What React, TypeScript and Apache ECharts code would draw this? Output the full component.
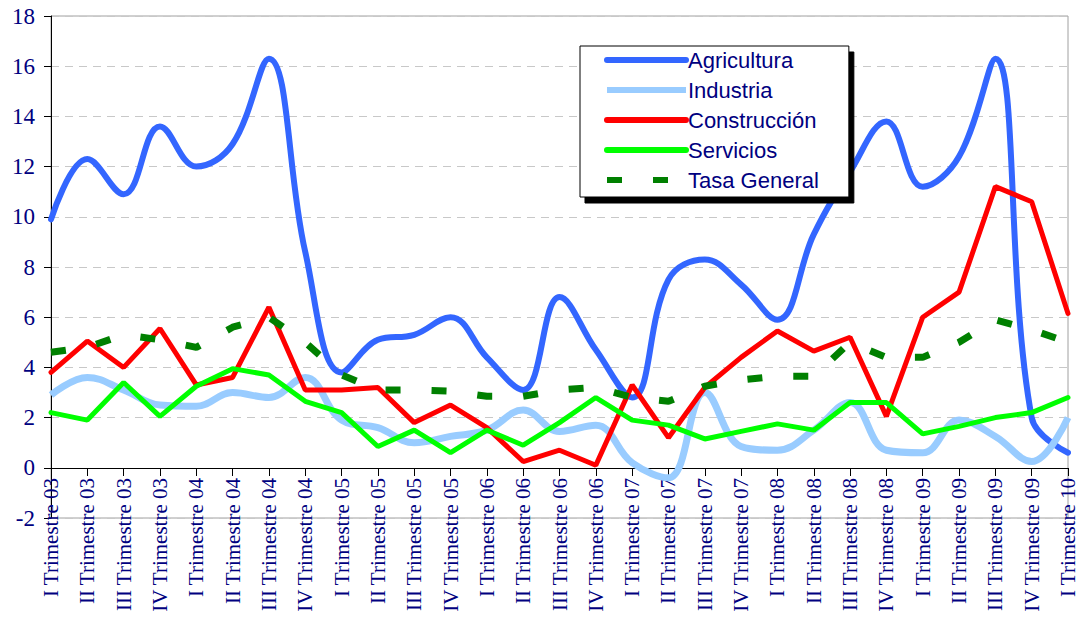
import React, { useEffect, useRef } from "react";
import * as echarts from "echarts";

const categories = [
  "I Trimestre 03", "II Trimestre 03", "III Trimestre 03", "IV Trimestre 03",
  "I Trimestre 04", "II Trimestre 04", "III Trimestre 04", "IV Trimestre 04",
  "I Trimestre 05", "II Trimestre 05", "III Trimestre 05", "IV Trimestre 05",
  "I Trimestre 06", "II Trimestre 06", "III Trimestre 06", "IV Trimestre 06",
  "I Trimestre 07", "II Trimestre 07", "III Trimestre 07", "IV Trimestre 07",
  "I Trimestre 08", "II Trimestre 08", "III Trimestre 08", "IV Trimestre 08",
  "I Trimestre 09", "II Trimestre 09", "III Trimestre 09", "IV Trimestre 09",
  "I Trimestre 10",
];

const agricultura = [9.9, 12.3, 10.9, 13.6, 12.0, 12.9, 16.3, 8.6, 3.8, 5.1, 5.3, 6.0, 4.4, 3.1, 6.8, 4.7, 2.8, 7.5, 8.3, 7.3, 5.9, 9.3, 11.8, 13.8, 11.2, 12.4, 16.3, 2.0, 0.6];
const industria = [2.9, 3.6, 3.1, 2.5, 2.45, 3.0, 2.8, 3.6, 1.9, 1.6, 1.0, 1.25, 1.5, 2.3, 1.45, 1.7, 0.2, -0.4, 3.0, 0.85, 0.7, 1.5, 2.6, 0.7, 0.6, 1.9, 1.25, 0.25, 2.0];
const construccion = [3.8, 5.05, 4.0, 5.55, 3.3, 3.6, 6.4, 3.1, 3.1, 3.2, 1.8, 2.5, 1.6, 0.25, 0.7, 0.1, 3.3, 1.2, 3.2, 4.4, 5.45, 4.65, 5.2, 2.05, 6.0, 7.0, 11.2, 10.6, 6.15];
const servicios = [2.2, 1.9, 3.4, 2.05, 3.25, 3.95, 3.7, 2.65, 2.2, 0.85, 1.5, 0.6, 1.5, 0.9, 1.8, 2.8, 1.9, 1.7, 1.15, 1.45, 1.75, 1.5, 2.6, 2.6, 1.35, 1.65, 2.0, 2.2, 2.8];
const tasaGeneral = [4.6, 4.8, 5.3, 5.1, 4.8, 5.6, 6.0, 5.0, 3.7, 3.1, 3.1, 3.05, 2.85, 2.85, 3.1, 3.2, 2.8, 2.65, 3.25, 3.5, 3.65, 3.65, 5.0, 4.4, 4.4, 5.0, 5.9, 5.5, 5.0];

const NAVY = "#000080";
const SERIF = "'Liberation Serif', 'Times New Roman', serif";
const SANS = "'Liberation Sans', Arial, sans-serif";

export default function App() {
  const ref = useRef<HTMLDivElement>(null);

  useEffect(() => {
    if (!ref.current) return;
    const chart = echarts.init(ref.current, undefined, { renderer: "svg" });
    const option = {
      animation: false,
      backgroundColor: "#ffffff",
      grid: {
        left: 51,
        right: 8,
        top: 16,
        bottom: 102,
        show: true,
        borderColor: "#a0a0a0",
        borderWidth: 1,
        containLabel: false,
        outerBoundsMode: "none",
      },
      legend: {
        orient: "vertical",
        left: 580,
        top: 46,
        padding: [3, 30, 6, 24],
        itemWidth: 79,
        itemHeight: 20,
        itemGap: 8,
        backgroundColor: "#ffffff",
        borderColor: "#000000",
        borderWidth: 1,
        shadowColor: "#000000",
        shadowBlur: 0,
        shadowOffsetX: 5,
        shadowOffsetY: 6,
        lineStyle: { width: 6 },
        itemStyle: { opacity: 0, borderWidth: 0 },
        textStyle: { color: NAVY, fontFamily: SANS, fontSize: 22, lineHeight: 20, padding: [0, 0, 0, -3] },
        data: ["Agricultura", "Industria", "Construcción", "Servicios", "Tasa General"],
      },
      xAxis: {
        type: "category",
        data: categories,
        boundaryGap: false,
        offset: -50,
        axisLine: { onZero: false, lineStyle: { color: "#000000", width: 1 } },
        axisTick: { show: true, length: 8, inside: false, interval: 0, lineStyle: { color: "#000000" } },
        axisLabel: {
          interval: 0,
          rotate: 90,
          margin: 10,
          color: NAVY,
          fontFamily: SERIF,
          fontSize: 21,
        },
        splitLine: { show: false },
      },
      yAxis: {
        type: "value",
        min: -2,
        max: 18,
        interval: 2,
        axisLine: { show: true, lineStyle: { color: "#000000", width: 1 } },
        axisTick: { show: true, length: 7, lineStyle: { color: "#000000" } },
        axisLabel: { color: NAVY, fontFamily: SERIF, fontSize: 23, margin: 16 },
        splitLine: { show: true, lineStyle: { color: "#c8c8c8", type: [8, 6], width: 1 } },
      },
      series: [
        {
          name: "Agricultura",
          type: "line",
          data: agricultura,
          smooth: 0.4,
          symbol: "none",
          lineStyle: { color: "#3366FF", width: 6, cap: "round", join: "round" },
          itemStyle: { color: "#3366FF" },
        },
        {
          name: "Industria",
          type: "line",
          data: industria,
          smooth: 0.4,
          symbol: "none",
          lineStyle: { color: "#99CCFF", width: 7 },
          itemStyle: { color: "#99CCFF" },
        },
        {
          name: "Construcción",
          type: "line",
          data: construccion,
          symbol: "none",
          lineStyle: { color: "#FF0000", width: 5, cap: "round" },
          itemStyle: { color: "#FF0000" },
        },
        {
          name: "Servicios",
          type: "line",
          data: servicios,
          symbol: "none",
          lineStyle: { color: "#00FF00", width: 5, cap: "round" },
          itemStyle: { color: "#00FF00" },
        },
        {
          name: "Tasa General",
          type: "line",
          data: tasaGeneral,
          symbol: "none",
          lineStyle: { color: "#008000", width: 7, type: [15, 31] },
          itemStyle: { color: "#008000" },
        },
      ],
    };
    chart.setOption(option as any);
    return () => chart.dispose();
  }, []);

  return (
    <div
      ref={ref}
      style={{ position: "fixed", left: 0, top: 0, width: 1076, height: 620 }}
    />
  );
}
